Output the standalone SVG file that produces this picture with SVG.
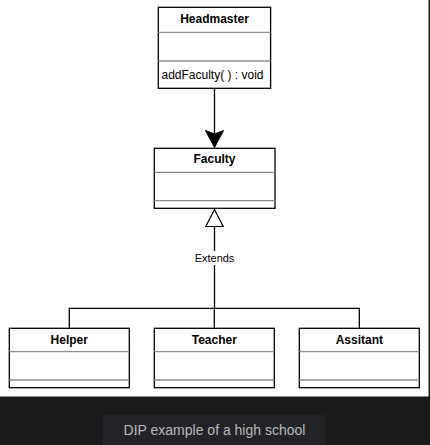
<svg xmlns="http://www.w3.org/2000/svg" width="430" height="445" viewBox="0 0 430 445">
<style>
.box{fill:#fff;stroke:#000;stroke-width:1.3}
.div{stroke:#8c8c8c;stroke-width:1.3}
.t{font-family:"Liberation Sans",Arial,sans-serif;font-size:12px;fill:#000}
.b{font-weight:bold;text-anchor:middle}
.edge{fill:none;stroke:#000;stroke-width:1.3}
</style>
<rect x="0" y="0" width="430" height="445" fill="#1b1b1b"/>
<rect x="0" y="0" width="428.5" height="396.5" fill="#fff"/>
<g id="connectors">
<line class="edge" x1="214.5" y1="88" x2="214.5" y2="134"/>
<path d="M214.5 147.5 L205.5 130.5 L214.5 134 L223.5 130.5 Z" fill="#000" stroke="#000" stroke-width="1"/>
<path class="edge" d="M214.5 226.5 V308.3 M69.3 328.3 V308.3 H359.3 V328.3 M214.3 308.3 V328.3"/>
<path d="M214.5 209.5 L205.8 226.5 L223.2 226.5 Z" fill="#fff" stroke="#000" stroke-width="1.2"/>
<rect x="192" y="251" width="45" height="14" fill="#fff"/>
<text class="t" x="214.5" y="262" text-anchor="middle" style="font-size:11px">Extends</text>
</g>
<g id="headmaster">
<rect class="box" x="158.3" y="7.3" width="112.3" height="81"/>
<line class="div" x1="158.3" y1="32.3" x2="270.6" y2="32.3"/>
<line class="div" x1="158.3" y1="61" x2="270.6" y2="61"/>
<text class="t b" x="214.5" y="23">Headmaster</text>
<text class="t" x="161.5" y="78.5">addFaculty( ) : void</text>
</g>
<g id="faculty">
<rect class="box" x="154.3" y="148.3" width="120.7" height="60"/>
<line class="div" x1="154.3" y1="172.3" x2="275" y2="172.3"/>
<line class="div" x1="154.3" y1="200.7" x2="275" y2="200.7"/>
<text class="t b" x="214.5" y="163">Faculty</text>
</g>
<g id="helper">
<rect class="box" x="9.3" y="328.3" width="120" height="59.4"/>
<line class="div" x1="9.3" y1="351.7" x2="129.3" y2="351.7"/>
<line class="div" x1="9.3" y1="380" x2="129.3" y2="380"/>
<text class="t b" x="69.3" y="343.5">Helper</text>
</g>
<g id="teacher">
<rect class="box" x="154.3" y="328.3" width="120" height="59.4"/>
<line class="div" x1="154.3" y1="351.7" x2="274.3" y2="351.7"/>
<line class="div" x1="154.3" y1="380" x2="274.3" y2="380"/>
<text class="t b" x="214.3" y="343.5">Teacher</text>
</g>
<g id="assitant">
<rect class="box" x="299.3" y="328.3" width="120" height="59.4"/>
<line class="div" x1="299.3" y1="351.7" x2="419.3" y2="351.7"/>
<line class="div" x1="299.3" y1="380" x2="419.3" y2="380"/>
<text class="t b" x="359.3" y="343.5">Assitant</text>
</g>
<g id="caption">
<rect x="102.7" y="414.5" width="223" height="40" rx="4" fill="#222327"/>
<text x="214.5" y="435" text-anchor="middle" font-family="Liberation Sans,Arial,sans-serif" font-size="14" fill="#b9b9bb">DIP example of a high school</text>
</g>
</svg>
